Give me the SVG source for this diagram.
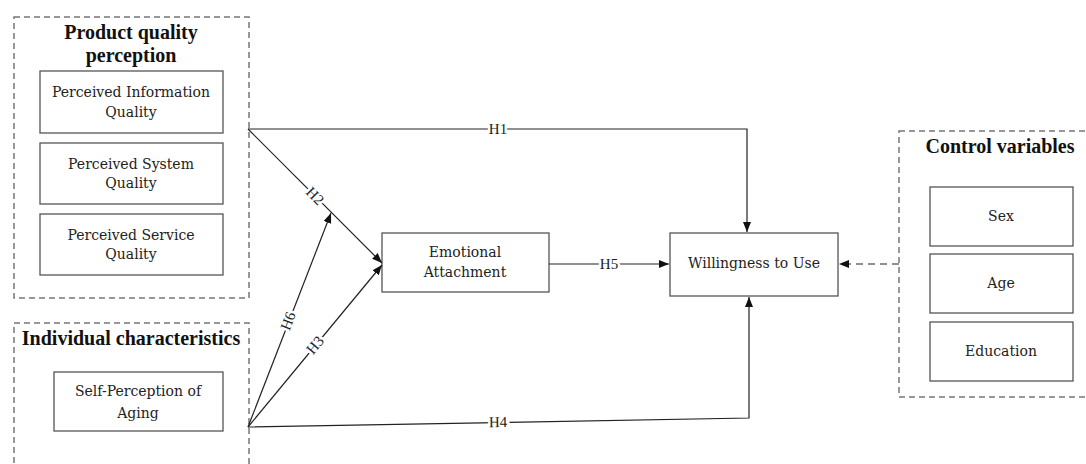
<svg xmlns="http://www.w3.org/2000/svg" width="1086" height="464" viewBox="0 0 1086 464">
<style>
.grp{fill:none;stroke:#777;stroke-width:1.5;stroke-dasharray:6 4}
.box{fill:#fff;stroke:#555;stroke-width:1.3}
.t{font-family:"DejaVu Serif","Liberation Serif",serif;font-size:14px;fill:#222;text-anchor:middle}
.h{font-family:"Liberation Serif","DejaVu Serif",serif;font-size:20px;font-weight:bold;fill:#111;text-anchor:middle}
.lbl{font-family:"Liberation Serif","DejaVu Serif",serif;font-size:15px;fill:#222;text-anchor:middle;dominant-baseline:central;stroke:#fff;stroke-width:5px;paint-order:stroke}
.ln{fill:none;stroke:#222;stroke-width:1.2}
</style>
<defs>
<marker id="ar" viewBox="0 0 10 10" refX="10" refY="5" markerWidth="10" markerHeight="10" markerUnits="userSpaceOnUse" orient="auto">
<path d="M0,1 L10,5 L0,9 Z" fill="#111"/>
</marker>
</defs>

<g id="product-quality">
<rect class="grp" x="14" y="17" width="235" height="281"/>
<text class="h" x="131" y="39">Product quality</text>
<text class="h" x="131" y="62">perception</text>
</g>
<g id="perceived-information">
<rect class="box" x="40" y="71" width="183" height="62"/>
<text class="t" x="131" y="97">Perceived Information</text>
<text class="t" x="131" y="117">Quality</text>
</g>
<g id="perceived-system">
<rect class="box" x="40" y="143" width="183" height="61"/>
<text class="t" x="131" y="169">Perceived System</text>
<text class="t" x="131" y="188">Quality</text>
</g>
<g id="perceived-service">
<rect class="box" x="40" y="214" width="183" height="61"/>
<text class="t" x="131" y="240">Perceived Service</text>
<text class="t" x="131" y="259">Quality</text>
</g>

<g id="individual">
<rect class="grp" x="14" y="323" width="235" height="160"/>
<text class="h" x="131" y="345">Individual characteristics</text>
</g>
<g id="self-perception">
<rect class="box" x="54" y="372" width="169" height="59"/>
<text class="t" x="138" y="396">Self-Perception of</text>
<text class="t" x="138" y="418">Aging</text>
</g>

<g id="emotional">
<rect class="box" x="382" y="233" width="167" height="59"/>
<text class="t" x="465" y="257">Emotional</text>
<text class="t" x="465" y="277">Attachment</text>
</g>

<g id="willingness">
<rect class="box" x="670" y="233" width="168" height="63"/>
<text class="t" x="754" y="268">Willingness to Use</text>
</g>

<g id="control">
<rect class="grp" x="899" y="131" width="200" height="266"/>
<text class="h" x="1000" y="153">Control variables</text>
</g>
<g id="sex">
<rect class="box" x="930" y="187" width="143" height="59"/>
<text class="t" x="1001" y="221">Sex</text>
</g>
<g id="age">
<rect class="box" x="930" y="254" width="143" height="59"/>
<text class="t" x="1001" y="288">Age</text>
</g>
<g id="education">
<rect class="box" x="930" y="322" width="143" height="59"/>
<text class="t" x="1001" y="356">Education</text>
</g>

<g id="connectors">
<path class="ln" d="M248,129 H747 V232" marker-end="url(#ar)"/>
<path class="ln" d="M248,129 L382,263" marker-end="url(#ar)"/>
<path class="ln" d="M248,427 L331,213" marker-end="url(#ar)"/>
<path class="ln" d="M248,427 L382,265" marker-end="url(#ar)"/>
<path class="ln" d="M248,427 L749,418 V297" marker-end="url(#ar)"/>
<path class="ln" d="M549,264 H669" marker-end="url(#ar)"/>
<path class="ln" d="M899,264 H839" stroke-dasharray="7 5" marker-end="url(#ar)"/>
<text class="lbl" x="498" y="129">H1</text>
<text class="lbl" x="315" y="196" transform="rotate(45 315 196)">H2</text>
<text class="lbl" x="288" y="321" transform="rotate(-69 288 321)">H6</text>
<text class="lbl" x="315" y="345" transform="rotate(-50 315 345)">H3</text>
<text class="lbl" x="498" y="422" transform="rotate(-1 498 422)">H4</text>
<text class="lbl" x="609" y="264">H5</text>
</g>
</svg>
